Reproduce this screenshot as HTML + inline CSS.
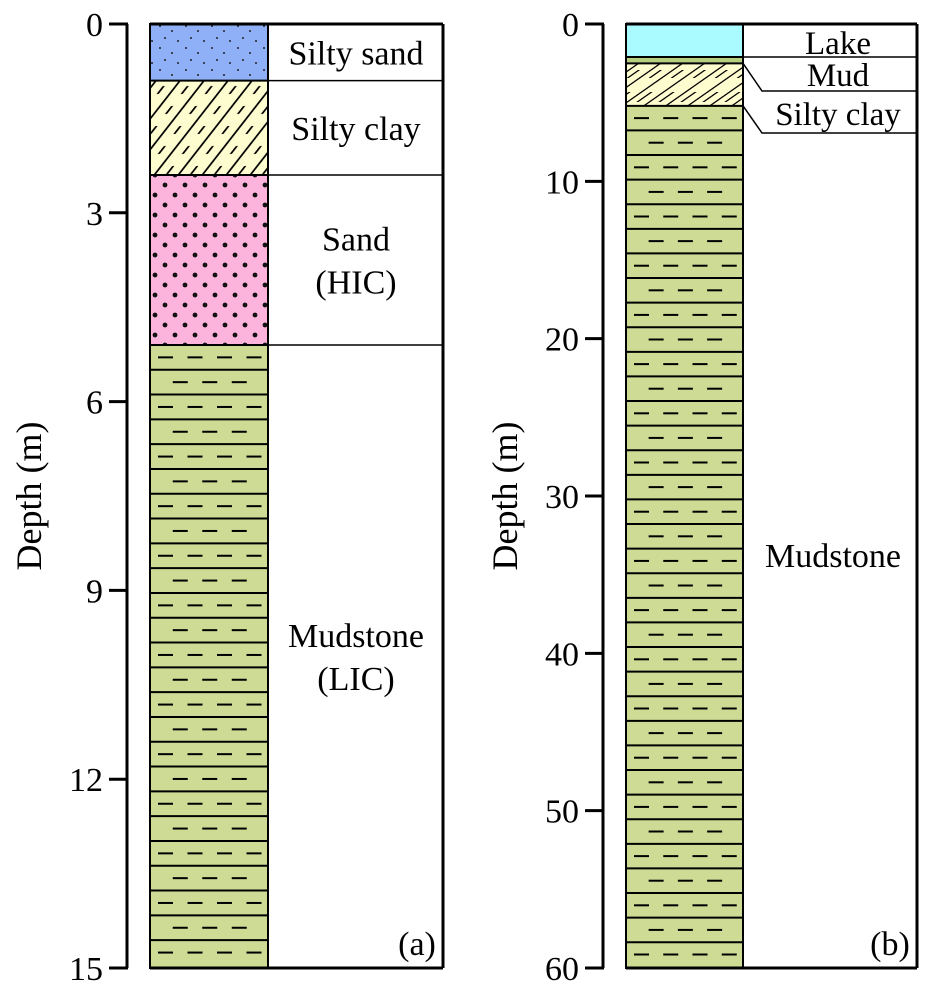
<!DOCTYPE html>
<html><head><meta charset="utf-8"><style>
html,body{margin:0;padding:0;background:#fff;}
svg{display:block;}
</style></head><body>
<svg id="c" width="930" height="991" viewBox="0 0 930 991" font-family="'Liberation Serif', serif">
<defs>
<pattern id="pSiltySand" width="26" height="22" patternUnits="userSpaceOnUse"><rect width="26" height="22" fill="#8fb0f7"/><circle cx="4" cy="4" r="1" fill="#222"/><circle cx="16" cy="9" r="1" fill="#222"/><circle cx="9" cy="16" r="1" fill="#222"/><circle cx="22" cy="19" r="1" fill="#222"/></pattern>
<pattern id="pSiltyClay" width="24" height="40" patternUnits="userSpaceOnUse" patternTransform="skewX(-38)"><rect width="24" height="40" fill="#fefdd0"/><line x1="3" y1="0" x2="3" y2="40" stroke="#000" stroke-width="2.2"/><line x1="15" y1="6" x2="15" y2="14" stroke="#000" stroke-width="2.2"/><line x1="15" y1="26" x2="15" y2="34" stroke="#000" stroke-width="2.2"/></pattern>
<pattern id="pSand" width="20" height="20" patternUnits="userSpaceOnUse"><rect width="20" height="20" fill="#fcb4dc"/><circle cx="5" cy="5" r="2.4" fill="#111"/><circle cx="15" cy="15" r="2.4" fill="#111"/></pattern>
<pattern id="pMud" width="22" height="42" patternUnits="userSpaceOnUse" patternTransform="skewX(-55)"><rect width="22" height="42" fill="#fefdd0"/><line x1="3" y1="0" x2="3" y2="42" stroke="#000" stroke-width="2.2"/><line x1="13" y1="8" x2="13" y2="18" stroke="#000" stroke-width="2.2"/><line x1="13" y1="28" x2="13" y2="36" stroke="#000" stroke-width="2.2"/></pattern>
<clipPath id="clipA"><rect x="150" y="24" width="118" height="944"/></clipPath>
<clipPath id="clipB"><rect x="626" y="24" width="117" height="944"/></clipPath>
</defs>
<g id="g"></g>
</svg>
<script>
// Panel (a)
const aTicks = [0, 3, 6, 9, 12, 15];
const aLayerTops = [0, 0.9, 2.4, 5.1];
const aLayerBottoms = [0.9, 2.4, 5.1, 15];
const aLayerFills = ['url(#pSiltySand)', 'url(#pSiltyClay)', 'url(#pSand)', 'mud'];
const aLabels = [['Silty sand'], ['Silty clay'], ['Sand', '(HIC)'], ['Mudstone', '(LIC)']];
// Panel (b)
const bTicks = [0, 10, 20, 30, 40, 50, 60];
const bLayerTops = [0, 2.1, 2.5, 5.2];
const bLayerBottoms = [2.1, 2.5, 5.2, 60];
const bLayerFills = ['#a9fbff', '#b6cf7e', 'url(#pMud)', 'mud'];

const NS = 'http://www.w3.org/2000/svg';
const G = document.getElementById('g');
function el(tag, attrs, parent) {
  const e = document.createElementNS(NS, tag);
  for (const k in attrs) e.setAttribute(k, attrs[k]);
  (parent || G).appendChild(e);
  return e;
}
function txt(s, x, y, size, anchor, parent) {
  const t = el('text', {x: x, y: y, 'font-size': size, 'text-anchor': anchor || 'middle'}, parent);
  t.style.fontFamily = '"Liberation Serif", serif';
  t.textContent = s;
  return t;
}

function panel(cfg) {
  const y = d => cfg.y0 + (d - cfg.dmin) / (cfg.dmax - cfg.dmin) * (cfg.y1 - cfg.y0);
  const g = el('g', {});
  
  
  const ax = el('line', {x1: cfg.axX, y1: cfg.y0, x2: cfg.axX, y2: cfg.y1, stroke: '#000', 'stroke-width': 3}, g);
  
  
  cfg.ticks.forEach(v => {
    const t = el('line', {x1: cfg.axX - 18, y1: y(v), x2: cfg.axX + 1, y2: y(v), stroke: '#000', 'stroke-width': 3}, g);
    
    
    const l = txt(String(v), cfg.axX - 24, y(v) + 12, 34, 'end', g);
    
    
  });
  const tt = txt('Depth (m)', 0, 0, 36, 'middle', g);
  tt.setAttribute('transform', 'translate(' + (cfg.axX - 86) + ',496) rotate(-90)');
  
  
  const lg = el('g', {'clip-path': cfg.clip}, g);
  cfg.tops.forEach((top, i) => {
    const yt = y(top), yb = y(cfg.bottoms[i]);
    const f = cfg.fills[i];
    const r = el('rect', {x: cfg.cx0, y: yt, width: cfg.cx1 - cfg.cx0, height: yb - yt, fill: f === 'mud' ? '#cddb95' : f}, lg);
    
    
    if (f === 'mud') {
      const bh = cfg.band;
      let k = 0;
      for (let yy = yt; yy < yb - 4; yy += bh, k++) {
        const n = k % 2 === 0 ? 4 : 3;
        const w = cfg.cx1 - cfg.cx0;
        const step = w / 4;
        const start = n === 4 ? cfg.cx0 + 8 : cfg.cx0 + 8 + step / 2;
        for (let j = 0; j < n; j++) el('line', {x1: start + j * step, y1: yy + bh / 2, x2: start + j * step + 15, y2: yy + bh / 2, stroke: '#000', 'stroke-width': 2}, lg);
        if (yy + bh < yb - 4) el('line', {x1: cfg.cx0, y1: yy + bh, x2: cfg.cx1, y2: yy + bh, stroke: '#000', 'stroke-width': 2}, lg);
      }
    }
    el('line', {x1: cfg.cx0, y1: yt, x2: cfg.cx1, y2: yt, stroke: '#000', 'stroke-width': 2}, lg);
  });
  el('rect', {x: cfg.cx0, y: cfg.y0, width: cfg.cx1 - cfg.cx0, height: cfg.y1 - cfg.y0, fill: 'none', stroke: '#000', 'stroke-width': 2}, g);
  return {g: g, y: y};
}

const A = panel({name: 'panel-a', axX: 127, y0: 24, y1: 968, dmin: 0, dmax: 15, ticks: aTicks, cx0: 150, cx1: 268,
  tops: aLayerTops, bottoms: aLayerBottoms, fills: aLayerFills, band: 24.8, clip: 'url(#clipA)'});
aLayerTops.forEach((top, i) => {
  const yt = A.y(top), yb = A.y(aLayerBottoms[i]);
  if (i > 0) el('line', {x1: 268, y1: yt, x2: 443, y2: yt, stroke: '#000', 'stroke-width': 1.5}, A.g);
  const lines = aLabels[i];
  const mid = (yt + yb) / 2;
  lines.forEach((s, j) => {
    const t = txt(s, 356, mid + 12 + (j - (lines.length - 1) / 2) * 43, 34, 'middle', A.g);
    
    
  });
});
el('line', {x1: 150, y1: 24, x2: 443, y2: 24, stroke: '#000', 'stroke-width': 3}, A.g);
el('line', {x1: 443, y1: 24, x2: 443, y2: 968, stroke: '#000', 'stroke-width': 3}, A.g);
el('line', {x1: 150, y1: 968, x2: 443, y2: 968, stroke: '#000', 'stroke-width': 3}, A.g);
const la = txt('(a)', 417, 955, 34, 'middle', A.g);



const B = panel({name: 'panel-b', axX: 603, y0: 24, y1: 968, dmin: 0, dmax: 60, ticks: bTicks, cx0: 626, cx1: 743,
  tops: bLayerTops, bottoms: bLayerBottoms, fills: bLayerFills, band: 24.6, clip: 'url(#clipB)'});
const yL = B.y(bLayerBottoms[0]);
el('line', {x1: 743, y1: yL, x2: 917, y2: yL, stroke: '#000', 'stroke-width': 1.5}, B.g);
el('polyline', {points: '743,' + B.y(bLayerTops[2]) + ' 762,91 917,91', fill: 'none', stroke: '#000', 'stroke-width': 1.5}, B.g);
el('polyline', {points: '743,' + B.y(bLayerTops[3]) + ' 762,133 917,133', fill: 'none', stroke: '#000', 'stroke-width': 1.5}, B.g);
[['Lake', 54], ['Mud', 86], ['Silty clay', 125]].forEach(p => {
  const t = txt(p[0], 838, p[1], 33, 'middle', B.g);
  
  
});
const tm = txt('Mudstone', 833, 567, 34, 'middle', B.g);


el('line', {x1: 626, y1: 24, x2: 917, y2: 24, stroke: '#000', 'stroke-width': 3}, B.g);
el('line', {x1: 917, y1: 24, x2: 917, y2: 968, stroke: '#000', 'stroke-width': 3}, B.g);
el('line', {x1: 626, y1: 968, x2: 917, y2: 968, stroke: '#000', 'stroke-width': 3}, B.g);
const lb = txt('(b)', 890, 955, 34, 'middle', B.g);


</script>
</body></html>
